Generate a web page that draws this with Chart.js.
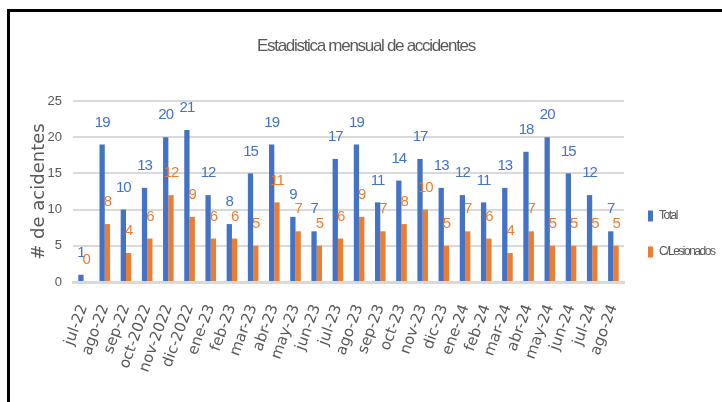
<!DOCTYPE html>
<html>
<head>
<meta charset="utf-8">
<script src="https://cdn.jsdelivr.net/npm/chart.js@4/dist/chart.umd.min.js"></script>
<style>
  html, body { margin: 0; padding: 0; background: #fff; overflow: hidden; }
  #wrap { position: relative; width: 722px; height: 402px; }
  #frame { position: absolute; left: 7px; top: 9px; width: 800px; height: 500px; border: 3px solid #000; }
  #chart { position: absolute; left: 0; top: 0; }
</style>
</head>
<body>
<div id="wrap">
  <div id="frame"></div>
  <canvas id="chart" width="722" height="402"></canvas>
</div>
<script>
const meses = ['jul-22', 'ago-22', 'sep-22', 'oct-2022', 'nov-2022', 'dic-2022', 'ene-23', 'feb-23', 'mar-23', 'abr-23', 'may-23', 'jun-23', 'jul-23', 'ago-23', 'sep-23', 'oct-23', 'nov-23', 'dic-23', 'ene-24', 'feb-24', 'mar-24', 'abr-24', 'may-24', 'jun-24', 'jul-24', 'ago-24'];
const total = [1, 19, 10, 13, 20, 21, 12, 8, 15, 19, 9, 7, 17, 19, 11, 14, 17, 13, 12, 11, 13, 18, 20, 15, 12, 7];
const lesionados = [0, 8, 4, 6, 12, 9, 6, 6, 5, 11, 7, 5, 6, 9, 7, 8, 10, 5, 7, 6, 4, 7, 5, 5, 5, 5];
const yTicks = [0, 5, 10, 15, 20, 25];

const sans = '"Liberation Sans", Arial, sans-serif';
const gris = '#595959';

// the original uses a narrow font; tighten letters on title and legend
function tighten(box, spacing) {
  const draw = box.draw.bind(box);
  box.draw = function (area) {
    const ctx = box.ctx;
    ctx.save();
    ctx.letterSpacing = spacing;
    draw(area);
    ctx.restore();
  };
}

const squeeze = {
  id: 'squeeze',
  afterInit(chart) {
    tighten(chart.titleBlock, '-1.3px');
    tighten(chart.legend, '-1.5px');
  }
};

// numbers over the bars
const valueLabels = {
  id: 'valueLabels',
  afterDatasetsDraw(chart) {
    const ctx = chart.ctx;
    ctx.save();
    ctx.font = '15px ' + sans;
    ctx.letterSpacing = '-1px';
    ctx.textAlign = 'center';
    ctx.textBaseline = 'middle';
    chart.data.datasets.forEach((ds, i) => {
      ctx.fillStyle = ds.backgroundColor;
      chart.getDatasetMeta(i).data.forEach((bar, j) => {
        ctx.fillText(ds.data[j], bar.x, bar.y - 22);
      });
    });
    ctx.restore();
  }
};

new Chart(document.getElementById('chart'), {
  type: 'bar',
  data: {
    labels: meses,
    datasets: [
      { label: 'Total', data: total, backgroundColor: '#4472C4', categoryPercentage: 0.5, barPercentage: 1.0 },
      { label: 'C/Lesionados', data: lesionados, backgroundColor: '#ED7D31', categoryPercentage: 0.5, barPercentage: 1.0 }
    ]
  },
  options: {
    responsive: false,
    devicePixelRatio: 1,
    animation: false,
    layout: { padding: { left: 10, top: 0, right: 0, bottom: 0 } },
    plugins: {
      title: {
        display: true,
        text: 'Estadistica mensual de accidentes',
        color: gris,
        font: { family: sans, size: 17, weight: 'normal' },
        padding: { top: 36, bottom: 44.6 }
      },
      legend: {
        position: 'right',
        align: 'end',
        fullSize: false,
        maxWidth: 98,
        labels: {
          color: gris,
          font: { family: sans, size: 12 },
          boxWidth: 5,
          boxHeight: 11,
          padding: 24
        }
      },
      tooltip: { enabled: false }
    },
    scales: {
      x: {
        grid: { display: false },
        border: { color: '#d9d9d9', width: 3 },
        ticks: {
          color: gris,
          font: { family: 'DejaVu Sans', size: 15 },
          minRotation: 70,
          maxRotation: 70,
          autoSkip: false,
          padding: 12
        },
        afterFit(scale) { scale.height = 120; }
      },
      y: {
        min: 0,
        max: 25,
        afterBuildTicks(scale) { scale.ticks = yTicks.map(v => ({ value: v })); },
        grid: { color: '#d9d9d9', lineWidth: 2, drawTicks: false },
        border: { display: false },
        ticks: { color: gris, font: { family: sans, size: 13 }, padding: 11 },
        title: {
          display: true,
          text: '# de acidentes',
          color: gris,
          font: { family: 'DejaVu Sans', size: 18 },
          padding: { top: 19, bottom: 0 }
        },
        afterFit(scale) { scale.width = 63; }
      }
    }
  },
  plugins: [squeeze, valueLabels]
});
</script>
</body>
</html>
